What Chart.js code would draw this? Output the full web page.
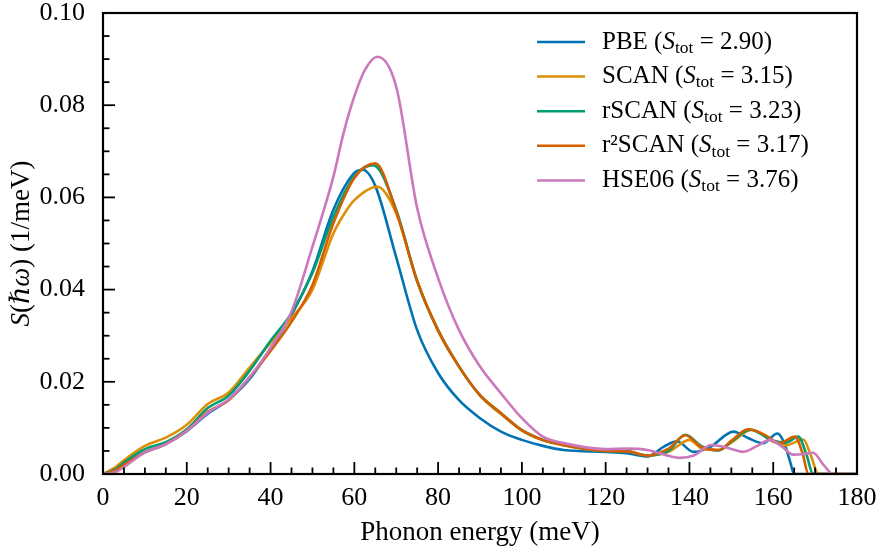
<!DOCTYPE html>
<html>
<head>
<meta charset="utf-8">
<script src="https://cdn.jsdelivr.net/npm/chart.js@4.4.0/dist/chart.umd.min.js"></script>
<style>
html, body { margin: 0; padding: 0; background: #fff; }
#wrap { width: 879px; height: 546px; position: relative; }
</style>
</head>
<body>
<div id="wrap"><canvas id="sChart"></canvas></div>
<script>
// functionals, total S and colours
var names = ["PBE", "SCAN", "rSCAN", "r\u00b2SCAN", "HSE06"];
var sTot = ["2.90", "3.15", "3.23", "3.17", "3.76"];
var colors = ["#0173b2", "#de8f05", "#029e73", "#d55e00", "#cc78bc"];

// spectral functions S(hw), energies in meV
var pbeE = [0, 3, 5, 10, 15, 20, 25, 30, 35, 40, 45, 50, 55, 60, 62, 65, 70, 75, 80, 85, 90, 95, 100, 105, 110, 120, 125, 130, 134, 137, 141, 145, 150.5, 154, 157.6, 161, 162.5, 164, 165, 180];
var pbeS = [0, 0.0012, 0.0022, 0.0047, 0.0065, 0.0093, 0.0131, 0.0161, 0.0206, 0.0272, 0.0345, 0.044, 0.0573, 0.0653, 0.066, 0.0625, 0.047, 0.0312, 0.0219, 0.016, 0.0121, 0.0092, 0.0074, 0.0061, 0.0052, 0.0048, 0.0045, 0.0038, 0.006, 0.0071, 0.0048, 0.0059, 0.0092, 0.0078, 0.0067, 0.0088, 0.007, 0.0028, 0, 0];

var scanE = [0, 3, 5, 10, 15, 20, 25, 30, 35, 40, 45, 50, 55, 58, 60, 65.5, 70, 75, 80, 85, 90, 95, 100, 105, 110, 120, 125, 130, 135, 140, 143, 147, 150, 155, 160, 163, 167.2, 169, 170.8, 180];
var scanS = [0, 0.0015, 0.003, 0.0061, 0.0079, 0.0107, 0.0152, 0.0177, 0.0231, 0.0285, 0.0338, 0.04, 0.0522, 0.057, 0.0594, 0.0623, 0.0565, 0.042, 0.031, 0.0233, 0.017, 0.013, 0.0094, 0.0073, 0.0062, 0.005, 0.005, 0.004, 0.0048, 0.0074, 0.0055, 0.0052, 0.0068, 0.0096, 0.007, 0.0062, 0.0075, 0.004, 0, 0];

var rscanE = [0, 3, 5, 10, 15, 20, 25, 30, 35, 40, 45, 50, 55, 60, 64.5, 70, 75, 80, 85, 90, 95, 100, 105, 110, 120, 125, 130, 135, 139, 143, 147, 150, 154.5, 160, 163, 166, 168, 169.5, 180];
var rscanS = [0, 0.001, 0.0025, 0.0054, 0.0069, 0.0097, 0.0143, 0.017, 0.0224, 0.0289, 0.0349, 0.0436, 0.0558, 0.0645, 0.067, 0.0573, 0.0418, 0.0312, 0.0233, 0.0171, 0.0132, 0.0095, 0.0074, 0.0063, 0.005, 0.0049, 0.004, 0.005, 0.0085, 0.006, 0.0051, 0.007, 0.0096, 0.0072, 0.0068, 0.0081, 0.004, 0, 0];

var r2scanE = [0, 3, 5, 10, 15, 20, 25, 30, 35, 40, 45, 50, 55, 60, 65, 70, 75, 80, 85, 90, 95, 100, 105, 110, 120, 125, 130, 135, 139, 143, 147, 150, 154, 158, 161.5, 165.2, 167, 168.4, 180];
var r2scanS = [0, 0.0008, 0.002, 0.0047, 0.0065, 0.0094, 0.0135, 0.016, 0.021, 0.0267, 0.033, 0.041, 0.0544, 0.0642, 0.0674, 0.057, 0.0418, 0.0312, 0.0233, 0.0171, 0.0132, 0.0095, 0.0074, 0.0063, 0.005, 0.0049, 0.004, 0.0055, 0.0084, 0.0058, 0.0052, 0.0072, 0.0097, 0.0085, 0.0067, 0.0081, 0.0045, 0, 0];

var hseE = [0, 3, 5, 10, 15, 20, 25, 30, 35, 40, 45, 50, 55, 57.5, 60, 62.5, 65.5, 70, 75, 80, 85, 90, 95, 100, 105, 110, 120, 125, 130, 134, 137.7, 141, 145.3, 149, 152.9, 156, 159.2, 162, 164.8, 167, 169.5, 172, 174.3, 180];
var hseS = [0, 0.0004, 0.0015, 0.0047, 0.0065, 0.0094, 0.0133, 0.0162, 0.021, 0.0274, 0.0352, 0.0493, 0.0645, 0.0742, 0.0819, 0.0876, 0.0905, 0.084, 0.0577, 0.0425, 0.0312, 0.0233, 0.0175, 0.0121, 0.0081, 0.0067, 0.0054, 0.0055, 0.0052, 0.0042, 0.0035, 0.004, 0.0063, 0.0057, 0.0048, 0.006, 0.0074, 0.006, 0.0042, 0.0043, 0.0046, 0.002, 0, 0];

var energies = [pbeE, scanE, rscanE, r2scanE, hseE];
var values = [pbeS, scanS, rscanS, r2scanS, hseS];

var FONT = '"Liberation Serif", "DejaVu Serif", serif';

function pts(xs, ys) {
  return xs.map(function(x, i) { return { x: x, y: ys[i] }; });
}

// draws text pieces: '' normal, 'i' italic, 'sub' subscript
function drawRich(ctx, parts, x, y, size) {
  var cx = x;
  parts.forEach(function(p) {
    var fs = p[1] === 'sub' ? size * 0.7 : size;
    ctx.font = (p[1] === 'i' ? 'italic ' : '') + fs + 'px ' + FONT;
    ctx.fillText(p[0], cx, p[1] === 'sub' ? y + size * 0.25 : y);
    cx += ctx.measureText(p[0]).width;
  });
  return cx - x;
}

function richWidth(ctx, parts, size) {
  var w = 0;
  parts.forEach(function(p) {
    var fs = p[1] === 'sub' ? size * 0.7 : size;
    ctx.font = (p[1] === 'i' ? 'italic ' : '') + fs + 'px ' + FONT;
    w += ctx.measureText(p[0]).width;
  });
  return w;
}

// no extra padding from tick label overflow
function noPad(s) {
  s.paddingTop = 0; s.paddingBottom = 0; s.paddingLeft = 0; s.paddingRight = 0;
}

var framePlugin = {
  id: 'frame',
  afterDraw: function(chart) {
    var ctx = chart.ctx, a = chart.chartArea;
    var xs = chart.scales.x, ys = chart.scales.y;
    ctx.save();
    ctx.strokeStyle = '#000';
    ctx.lineWidth = 1.8;
    // inward ticks, major + minor
    for (var e = 0; e <= 180; e += 5) {
      var px = xs.getPixelForValue(e);
      var len = e % 20 === 0 ? 12 : 6.5;
      ctx.beginPath(); ctx.moveTo(px, a.bottom); ctx.lineTo(px, a.bottom - len); ctx.stroke();
    }
    for (var k = 0; k <= 20; k++) {
      var py = ys.getPixelForValue(k * 0.005);
      var l2 = k % 4 === 0 ? 12 : 6.5;
      ctx.beginPath(); ctx.moveTo(a.left, py); ctx.lineTo(a.left + l2, py); ctx.stroke();
    }
    ctx.lineWidth = 2.2;
    ctx.strokeRect(a.left, a.top, a.right - a.left, a.bottom - a.top);

    // y title
    ctx.fillStyle = '#000';
    ctx.textBaseline = 'middle';
    var yParts = [['S', 'i'], ['(', ''], ['\u210f\u03c9', 'i'], [') (1/meV)', '']];
    ctx.translate(22, (a.top + a.bottom) / 2);
    ctx.rotate(-Math.PI / 2);
    var w = richWidth(ctx, yParts, 27);
    drawRich(ctx, yParts, -w / 2, 0, 27);
    ctx.restore();

    // legend
    ctx.save();
    ctx.textBaseline = 'middle';
    ctx.fillStyle = '#000';
    var lx = a.right - 320, ly = a.top + 29;
    names.forEach(function(n, i) {
      var y = ly + i * 34.6;
      ctx.strokeStyle = colors[i];
      ctx.lineWidth = 2.5;
      ctx.beginPath(); ctx.moveTo(lx, y); ctx.lineTo(lx + 48, y); ctx.stroke();
      drawRich(ctx, [[n + ' (', ''], ['S', 'i'], ['tot', 'sub'], ['\u2005=\u2005' + sTot[i] + ')', '']], lx + 65, y, 25);
    });
    ctx.restore();
  }
};

new Chart(document.getElementById('sChart'), {
  type: 'line',
  data: {
    datasets: names.map(function(n, i) {
      return {
        label: n,
        data: pts(energies[i], values[i]),
        borderColor: colors[i],
        borderWidth: 2.6,
        pointRadius: 0,
        fill: false,
        cubicInterpolationMode: 'monotone',
        order: names.length - i
      };
    })
  },
  options: {
    responsive: true,
    maintainAspectRatio: false,
    animation: false,
    layout: { padding: { top: 13, right: 22, left: 0, bottom: 0 } },
    plugins: { legend: { display: false }, tooltip: { enabled: false } },
    scales: {
      x: {
        type: 'linear', min: 0, max: 180,
        grid: { display: false },
        border: { display: false },
        ticks: { stepSize: 20, color: '#000', padding: 3, font: { family: FONT, size: 26, lineHeight: 1 } },
        title: { display: true, text: 'Phonon energy (meV)', color: '#000', padding: { top: 0, bottom: 0 }, font: { family: FONT, size: 27, lineHeight: 1 } },
        afterFit: function(s) { s.height = 72; noPad(s); }
      },
      y: {
        min: 0, max: 0.1,
        grid: { display: false },
        border: { display: false },
        ticks: { stepSize: 0.02, color: '#000', padding: 10, font: { family: FONT, size: 26, lineHeight: 1 },
          callback: function(v) { return v.toFixed(2); } },
        afterFit: function(s) { s.width = 103; noPad(s); }
      }
    }
  },
  plugins: [framePlugin]
});
</script>
</body>
</html>
